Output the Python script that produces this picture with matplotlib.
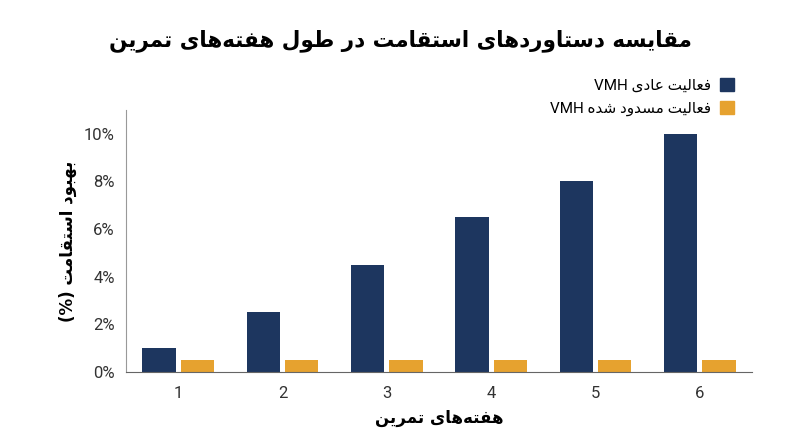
import matplotlib
matplotlib.use('Agg')
import matplotlib.pyplot as plt
from matplotlib.patches import Patch

# ============================================
# DADOS
# ============================================

semanas = [1, 2, 3, 4, 5, 6]
vmh_normal = [1.0, 2.5, 4.5, 6.5, 8.0, 10.0]
vmh_bloqueado = [0.5, 0.5, 0.5, 0.5, 0.5, 0.5]

titulo = 'مقایسه دستاوردهای استقامت در طول هفته‌های تمرین'
rotulo_x = 'هفته‌های تمرین'
rotulo_y = 'بهبود استقامت (%)'
legenda = ['فعالیت عادی VMH', 'فعالیت مسدود شده VMH']

cor_azul = '#1d365f'
cor_laranja = '#e6a22f'

# ============================================
# FORMAS ARABES (matplotlib nao faz shaping)
# ============================================

FORMAS = {
    'ا': (0xFE8D, 0xFE8E, None, None),
    'ب': (0xFE8F, 0xFE90, 0xFE91, 0xFE92),
    'ت': (0xFE95, 0xFE96, 0xFE97, 0xFE98),
    'د': (0xFEA9, 0xFEAA, None, None),
    'ر': (0xFEAD, 0xFEAE, None, None),
    'س': (0xFEB1, 0xFEB2, 0xFEB3, 0xFEB4),
    'ش': (0xFEB5, 0xFEB6, 0xFEB7, 0xFEB8),
    'ط': (0xFEC1, 0xFEC2, 0xFEC3, 0xFEC4),
    'ع': (0xFEC9, 0xFECA, 0xFECB, 0xFECC),
    'ف': (0xFED1, 0xFED2, 0xFED3, 0xFED4),
    'ق': (0xFED5, 0xFED6, 0xFED7, 0xFED8),
    'ل': (0xFEDD, 0xFEDE, 0xFEDF, 0xFEE0),
    'م': (0xFEE1, 0xFEE2, 0xFEE3, 0xFEE4),
    'ن': (0xFEE5, 0xFEE6, 0xFEE7, 0xFEE8),
    'ه': (0xFEE9, 0xFEEA, 0xFEEB, 0xFEEC),
    'و': (0xFEED, 0xFEEE, None, None),
    'ی': (0xFEEF, 0xFEF0, 0xFEF3, 0xFEF4),
}
ESPELHO = {'(': ')', ')': '('}


def fa(texto):
    n = len(texto)
    saida = []
    for i, c in enumerate(texto):
        if c not in FORMAS:
            if c != '\u200c':
                saida.append(c)
            continue
        ant = texto[i - 1] if i > 0 else ''
        prox = texto[i + 1] if i < n - 1 else ''
        liga_ant = ant in FORMAS and FORMAS[ant][2] is not None
        liga_prox = FORMAS[c][2] is not None and prox in FORMAS
        f = FORMAS[c]
        if liga_ant and liga_prox:
            cod = f[3]
        elif liga_ant:
            cod = f[1]
        elif liga_prox:
            cod = f[2]
        else:
            cod = f[0]
        saida.append(chr(cod))
    saida = saida[::-1]
    # runs latinos voltam para a ordem original
    res = []
    run = []
    for c in saida:
        if c.isascii() and c.isalnum():
            run.append(c)
        else:
            if run:
                res.extend(run[::-1])
                run = []
            res.append(ESPELHO.get(c, c))
    if run:
        res.extend(run[::-1])
    return ''.join(res)


# ============================================
# GRAFICO
# ============================================

plt.rcParams['font.family'] = ['Roboto', 'DejaVu Sans']

fig = plt.figure(figsize=(8, 4.47), dpi=100)
ax = fig.add_axes([0.1575, 0.1678, 0.7825, 0.586])

larg = 0.32
desloc = 0.185
x_azul = [s - desloc for s in semanas]
x_laranja = [s + desloc for s in semanas]
ax.bar(x_azul, vmh_normal, width=larg, color=cor_azul)
ax.bar(x_laranja, vmh_bloqueado, width=larg, color=cor_laranja)

ax.set_xlim(0.5, 6.5)
ax.set_ylim(0, 11)
ax.set_xticks(semanas)
ax.set_yticks([0, 2, 4, 6, 8, 10])
ax.set_yticklabels([f'{v}%' for v in [0, 2, 4, 6, 8, 10]])
ax.tick_params(axis='both', length=0, labelsize=12, colors='#333333', pad=10)
ax.tick_params(axis='y', pad=8)

for lado in ['top', 'right']:
    ax.spines[lado].set_visible(False)
ax.spines['left'].set_color('#999999')
ax.spines['bottom'].set_color('#666666')

ax.set_xlabel(fa(rotulo_x), fontsize=12, fontweight='bold', family='DejaVu Sans', labelpad=6)
ax.set_ylabel(fa(rotulo_y), fontsize=12, fontweight='bold', family='DejaVu Sans', labelpad=5)

fig.text(0.5, 0.908, fa(titulo), ha='center', va='center', fontsize=15.5,
         fontweight='bold', family='DejaVu Sans')

handles = [Patch(color=cor_azul), Patch(color=cor_laranja)]
fig.legend(handles, [fa(t) for t in legenda], loc='upper right',
           bbox_to_anchor=(0.935, 0.856), frameon=False, markerfirst=False,
           handlelength=0.9, handleheight=0.9, handletextpad=0.6,
           labelspacing=0.55, prop={'family': ['Roboto', 'DejaVu Sans'], 'size': 11})

plt.savefig('out.png', dpi=100)
